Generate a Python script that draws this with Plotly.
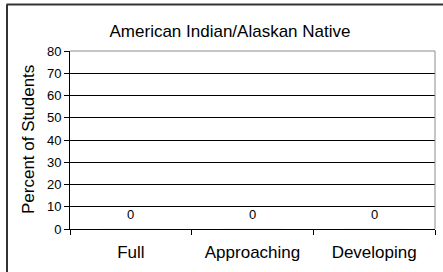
import plotly.graph_objects as go

categories = ["Full", "Approaching", "Developing"]
values = [0, 0, 0]
title_text = "American Indian/Alaskan Native"
y_title = "Percent of Students"
y_ticks = [0, 10, 20, 30, 40, 50, 60, 70, 80]

W, H = 443, 272
L, R, T, B = 70, 8, 51, 43
pw, ph = W - L - R, H - T - B

def px(x):
    return (x - L) / pw

def py(y):
    return (H - B - y) / ph

FONT = "Liberation Sans, Arial, sans-serif"

fig = go.Figure()
fig.add_trace(go.Bar(x=categories, y=values, marker_color="#9999ff",
                     showlegend=False, hoverinfo="skip"))

for c, v in zip(categories, values):
    fig.add_annotation(x=c, y=v, text=str(v), showarrow=False,
                       yanchor="bottom", yshift=5,
                       font=dict(family=FONT, size=13, color="black"))

fig.add_annotation(xref="paper", yref="paper", x=px(28), y=0.5,
                   text=y_title, textangle=-90, showarrow=False,
                   xanchor="center", yanchor="middle",
                   font=dict(family=FONT, size=17, color="black"))

# outer frame (top and left edges visible)
fig.add_shape(type="line", xref="paper", yref="paper",
              x0=px(6.5), x1=px(450), y0=py(4.5), y1=py(4.5),
              line=dict(color="#333333", width=2))
fig.add_shape(type="line", xref="paper", yref="paper",
              x0=px(7), x1=px(7), y0=py(4.5), y1=py(280),
              line=dict(color="#333333", width=2))
# plot area top/right border (gray)
fig.add_shape(type="line", xref="paper", yref="paper",
              x0=0, x1=1, y0=1, y1=1, layer="above",
              line=dict(color="#8c8c8c", width=1))
fig.add_shape(type="line", xref="paper", yref="paper",
              x0=1, x1=1, y0=0, y1=1, layer="above",
              line=dict(color="#8c8c8c", width=1))

fig.update_layout(
    width=W, height=H,
    margin=dict(l=L, r=R, t=T, b=B, autoexpand=False),
    paper_bgcolor="white", plot_bgcolor="white",
    title=dict(text=title_text, x=230 / W, xref="container", xanchor="center",
               y=(H - 31) / H, yref="container", yanchor="middle",
               font=dict(family=FONT, size=17, color="black")),
    font=dict(family=FONT, color="black"),
    bargap=0.5,
    xaxis=dict(type="category", showgrid=False, showline=True,
               linecolor="black", linewidth=1, ticks="outside",
               tickson="boundaries", ticklen=5, tickcolor="black",
               tickfont=dict(size=17, family=FONT, color="black"),
               ticklabelstandoff=8, fixedrange=True),
    yaxis=dict(range=[0, 80], tickvals=y_ticks, showgrid=True,
               gridcolor="black", gridwidth=1, showline=True,
               linecolor="black", linewidth=1, ticks="outside", ticklen=5,
               tickcolor="black", zeroline=False,
               tickfont=dict(size=13, family=FONT, color="black"),
               fixedrange=True),
)

fig.write_html("out.html", config={"displayModeBar": False},
               post_script="document.body.style.margin='0px';")
